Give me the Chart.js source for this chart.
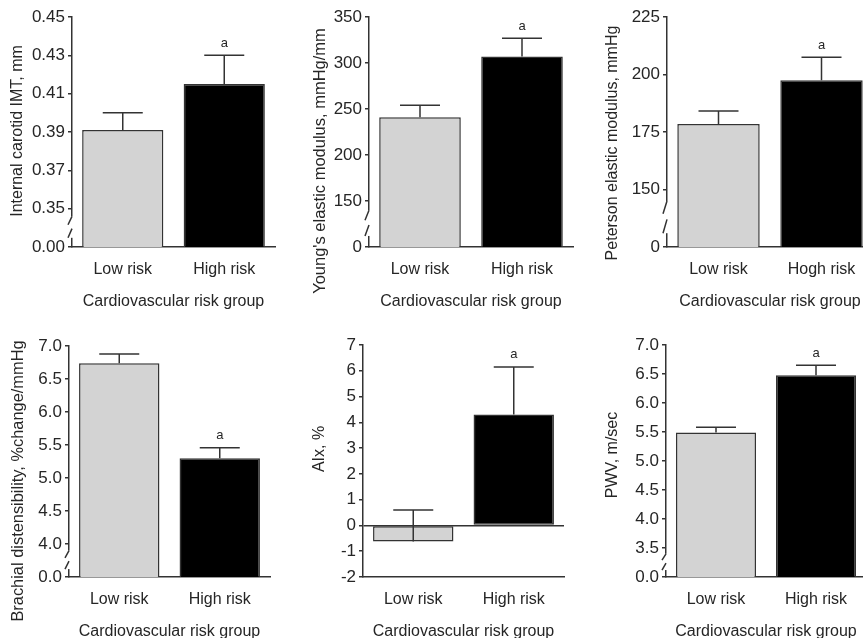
<!DOCTYPE html>
<html>
<head>
<meta charset="utf-8">
<title>Cardiovascular risk group</title>
<script src="https://cdn.jsdelivr.net/npm/chart.js@4.4.1/dist/chart.umd.min.js"></script>
<style>
  html, body { margin: 0; padding: 0; background: #fff; width: 863px; height: 638px; overflow: hidden; position: relative; }
  canvas { position: absolute; }
</style>
</head>
<body>
<canvas id="c1"></canvas>
<canvas id="c2"></canvas>
<canvas id="c3"></canvas>
<canvas id="c4"></canvas>
<canvas id="c5"></canvas>
<canvas id="c6"></canvas>
<script>
// categories and labels
const categories = ['Low risk', 'High risk'];
const categoriesPeterson = ['Low risk', 'Hogh risk'];
const groupTitle = 'Cardiovascular risk group';
const significance = ['', 'a'];

// internal carotid IMT
const imtMean = [0.391, 0.415];
const imtSem = [0.009, 0.015];
const imtTicks = [0.33, 0.35, 0.37, 0.39, 0.41, 0.43, 0.45];
const imtTickLabels = ['0.00', '0.35', '0.37', '0.39', '0.41', '0.43', '0.45'];

// Young's elastic modulus
const youngMean = [241, 307];
const youngSem = [13, 20];
const youngTicks = [100, 150, 200, 250, 300, 350];
const youngTickLabels = ['0', '150', '200', '250', '300', '350'];

// Peterson elastic modulus
const petersonMean = [178.5, 197.5];
const petersonSem = [5.6, 10];
const petersonTicks = [125, 150, 175, 200, 225];
const petersonTickLabels = ['0', '150', '175', '200', '225'];

// brachial distensibility
const brachialMean = [6.74, 5.30];
const brachialSem = [0.14, 0.16];
const brachialTicks = [3.5, 4.0, 4.5, 5.0, 5.5, 6.0, 6.5, 7.0];
const brachialTickLabels = ['0.0', '4.0', '4.5', '5.0', '5.5', '6.0', '6.5', '7.0'];

// augmentation index
const aixMean = [-0.62, 4.3];
const aixSem = [1.22, 1.85];
const aixTicks = [-2, -1, 0, 1, 2, 3, 4, 5, 6, 7];
const aixTickLabels = ['-2', '-1', '0', '1', '2', '3', '4', '5', '6', '7'];

// pulse wave velocity
const pwvMean = [5.49, 6.48];
const pwvSem = [0.09, 0.17];
const pwvTicks = [3.0, 3.5, 4.0, 4.5, 5.0, 5.5, 6.0, 6.5, 7.0];
const pwvTickLabels = ['0.0', '3.5', '4.0', '4.5', '5.0', '5.5', '6.0', '6.5', '7.0'];

const FONT = "'Liberation Sans', Arial, Helvetica, sans-serif";
const INK = '#262626';
const LINE_H = 16 * 1.2;

Chart.defaults.font.family = FONT;
Chart.defaults.font.size = 16;
Chart.defaults.color = INK;
Chart.defaults.animation = false;

// where each panel sits on the page (canvas box + plot area + y title centre, page coords)
let panels = [
    {id: 'c1', left: 0, top: 0, w: 290, h: 318, area: {l: 72, t: 17, r: 275, b: 247}, titleX: 18, titleY: 131, titleSize: 16,
        mean: imtMean, sem: imtSem, labels: categories, ticks: imtTicks, tickLabels: imtTickLabels,
        yTitle: 'Internal carotid IMT, mm', broken: true},
    {id: 'c2', left: 290, top: 0, w: 290, h: 318, area: {l: 369, t: 17, r: 573, b: 247}, titleX: 320, titleY: 161, titleSize: 16.5,
        mean: youngMean, sem: youngSem, labels: categories, ticks: youngTicks, tickLabels: youngTickLabels,
        yTitle: "Young's elastic modulus, mmHg/mm", broken: true},
    {id: 'c3', left: 580, top: 0, w: 300, h: 318, area: {l: 667, t: 17, r: 873, b: 247}, titleX: 613, titleY: 143, titleSize: 16,
        mean: petersonMean, sem: petersonSem, labels: categoriesPeterson, ticks: petersonTicks, tickLabels: petersonTickLabels,
        yTitle: 'Peterson elastic modulus, mmHg', broken: true},
    {id: 'c4', left: 0, top: 320, w: 290, h: 340, area: {l: 69, t: 346, r: 270, b: 577}, titleX: 18, titleY: 481, titleSize: 16.4,
        mean: brachialMean, sem: brachialSem, labels: categories, ticks: brachialTicks, tickLabels: brachialTickLabels,
        yTitle: 'Brachial distensibility, %change/mmHg', broken: true},
    {id: 'c5', left: 290, top: 320, w: 290, h: 340, area: {l: 363, t: 345, r: 564, b: 577}, titleX: 320, titleY: 449, titleSize: 16,
        mean: aixMean, sem: aixSem, labels: categories, ticks: aixTicks, tickLabels: aixTickLabels,
        yTitle: 'AIx, %', broken: false},
    {id: 'c6', left: 580, top: 320, w: 300, h: 340, area: {l: 666, t: 345, r: 866, b: 577}, titleX: 613, titleY: 455, titleSize: 16,
        mean: pwvMean, sem: pwvSem, labels: categories, ticks: pwvTicks, tickLabels: pwvTickLabels,
        yTitle: 'PWV, m/sec', broken: true}
];

// error bars, the "a" marks, the // break on the y axis and the y title
const extrasPlugin = {
    id: 'extras',
    afterDatasetsDraw(chart, args, opts) {
        let ctx = chart.ctx;
        let ys = chart.scales.y;
        let meta = chart.getDatasetMeta(0);
        ctx.save();
        ctx.strokeStyle = '#333';
        ctx.lineWidth = 1.5;
        for (let i = 0; i < meta.data.length; i++) {
            let x = meta.data[i].x;
            let y0 = ys.getPixelForValue(opts.mean[i]);
            let y1 = ys.getPixelForValue(opts.mean[i] + opts.sem[i]);
            ctx.beginPath();
            ctx.moveTo(x, y0);
            ctx.lineTo(x, y1);
            ctx.moveTo(x - 20, y1);
            ctx.lineTo(x + 20, y1);
            ctx.stroke();
            if (significance[i]) {
                ctx.fillStyle = INK;
                ctx.font = '13px ' + FONT;
                ctx.textAlign = 'center';
                ctx.textBaseline = 'middle';
                ctx.fillText(significance[i], x, y1 - 12);
            }
        }
        if (opts.broken) {
            let x0 = chart.chartArea.left;
            let yb = ys.getPixelForValue(opts.ticks[0]);
            let yt = ys.getPixelForValue(opts.ticks[1]);
            let gap = yb - yt;
            let a1 = yt + gap * 0.2, a2 = yt + gap * 0.42;
            let b1 = yt + gap * 0.52, b2 = yt + gap * 0.76;
            ctx.fillStyle = '#fff';
            ctx.fillRect(x0 - 2, a1, 4, b2 - a1);
            ctx.beginPath();
            ctx.moveTo(x0, a1);
            ctx.lineTo(x0 - 4, a2);
            ctx.moveTo(x0, b1);
            ctx.lineTo(x0 - 4, b2);
            ctx.stroke();
        }
        // y title
        ctx.translate(opts.titleX, opts.titleY);
        ctx.rotate(-Math.PI / 2);
        ctx.fillStyle = INK;
        ctx.font = opts.titleSize + 'px ' + FONT;
        ctx.textAlign = 'center';
        ctx.textBaseline = 'middle';
        ctx.fillText(opts.title, 0, 0);
        ctx.restore();
    }
};

function makePanel(p) {
    let canvas = document.getElementById(p.id);
    canvas.width = p.w;
    canvas.height = p.h;
    canvas.style.left = p.left + 'px';
    canvas.style.top = p.top + 'px';

    let yWidth = p.area.l - p.left;
    let xHeight = p.top + p.h - p.area.b;
    let xTitlePad = xHeight - 55 - LINE_H / 2;

    let config = {
        type: 'bar',
        data: {
            labels: p.labels,
            datasets: [{
                data: p.mean,
                backgroundColor: ['#d3d3d3', '#000000'],
                borderColor: '#333',
                borderWidth: 1.5,
                borderSkipped: false,
                barPercentage: 0.8,
                categoryPercentage: 1.0
            }]
        },
        options: {
            responsive: false,
            layout: {padding: {left: 0, top: p.area.t - p.top, right: p.left + p.w - p.area.r, bottom: 0}},
            plugins: {
                legend: {display: false},
                tooltip: {enabled: false},
                extras: {mean: p.mean, sem: p.sem, ticks: p.ticks, broken: p.broken,
                    title: p.yTitle, titleX: p.titleX - p.left, titleY: p.titleY - p.top, titleSize: p.titleSize}
            },
            scales: {
                x: {
                    grid: {display: false, drawTicks: false},
                    border: {display: true, color: '#333', width: 1.5},
                    ticks: {padding: 13, color: INK, font: {size: 16}},
                    title: {display: true, text: groupTitle, color: INK, font: {size: 16},
                        padding: {top: 0, bottom: xTitlePad}},
                    afterFit: (scale) => { scale.height = xHeight; }
                },
                y: {
                    min: p.ticks[0],
                    max: p.ticks[p.ticks.length - 1],
                    afterBuildTicks: (scale) => {
                        scale.ticks = p.ticks.map(v => ({value: v}));
                    },
                    afterFit: (scale) => { scale.width = yWidth; },
                    grid: {
                        drawOnChartArea: !p.broken,
                        color: (c) => (c.tick && c.tick.value === 0) ? '#333' : 'rgba(0,0,0,0)',
                        lineWidth: 1.5,
                        tickColor: '#333',
                        tickLength: 4,
                        tickWidth: 1.5
                    },
                    border: {display: true, color: '#333', width: 1.5},
                    ticks: {
                        autoSkip: false,
                        padding: 3,
                        color: INK,
                        font: {size: 17},
                        callback: (v, i) => p.tickLabels[i]
                    }
                }
            }
        },
        plugins: [extrasPlugin]
    };
    return new Chart(canvas, config);
}

for (let i = 0; i < panels.length; i++) {
    makePanel(panels[i]);
}
</script>
</body>
</html>
